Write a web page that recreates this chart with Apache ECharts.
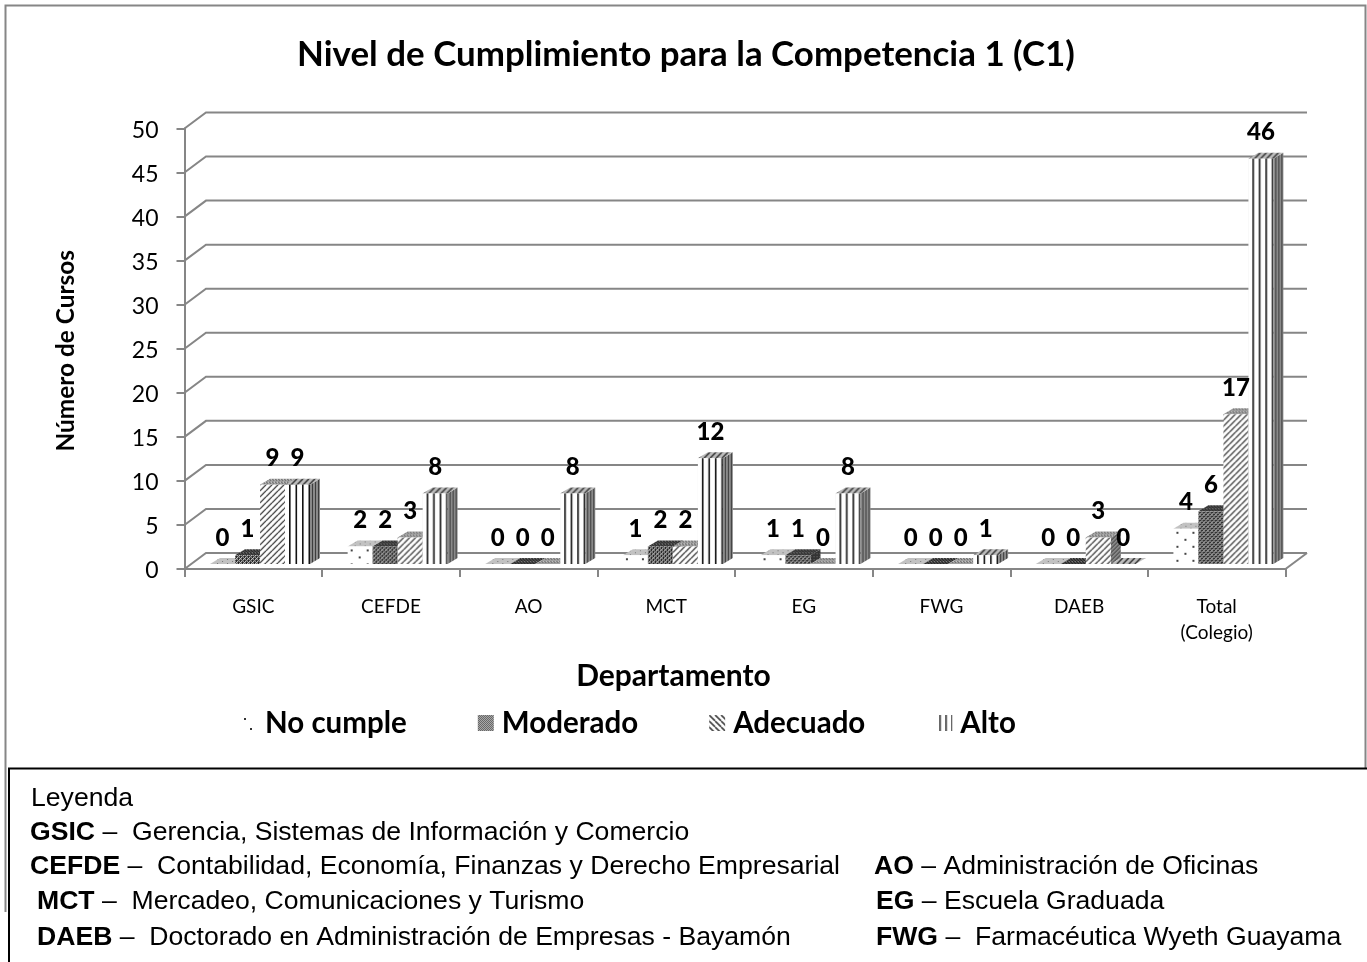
<!DOCTYPE html>
<html><head><meta charset="utf-8">
<style>html,body{margin:0;padding:0;background:#fff}#c{width:1367px;height:962px}</style>
<script src="https://cdn.jsdelivr.net/npm/echarts@6/dist/echarts.min.js"></script>
</head><body><div id="c"></div>
<script>
var chartTitle = 'Nivel de Cumplimiento para la Competencia 1 (C1)';
var categories = ['GSIC','CEFDE','AO','MCT','EG','FWG','DAEB','Total\n(Colegio)'];
var seriesNames = ['No cumple','Moderado','Adecuado','Alto'];
var noCumple = [0,2,0,1,1,0,0,4];
var moderado = [1,2,0,2,1,0,0,6];
var adecuado = [9,3,0,2,0,0,3,17];
var alto     = [9,8,8,12,8,1,0,46];
var yTicks   = [0,5,10,15,20,25,30,35,40,45,50];
var yTitle = 'Número de Cursos';
var xTitle = 'Departamento';
var keyHeading = 'Leyenda';
var keyCodes = ['GSIC','CEFDE','MCT','DAEB','AO','EG','FWG'];
var keyNames = [' –  Gerencia, Sistemas de Información y Comercio',
  ' –  Contabilidad, Economía, Finanzas y Derecho Empresarial',
  ' –  Mercadeo, Comunicaciones y Turismo',
  ' –  Doctorado en Administración de Empresas - Bayamón',
  ' – Administración de Oficinas',' – Escuela Graduada',' –  Farmacéutica Wyeth Guayama'];

var allValues = [noCumple,moderado,adecuado,alto];
var LAT = 'Lato', GREY = '#868686';
var DX = 21.5, DY = 16;         // wall depth
var BX = 10, BY = 6;            // bar depth
var FX = 6.7, FY = 5;           // bar plane offset
var BAR_FRAC = 0.1816;

function tile(w,h,bg,draw){
  var c=document.createElement('canvas');c.width=w;c.height=h;
  var g=c.getContext('2d');g.fillStyle=bg;g.fillRect(0,0,w,h);draw(g);
  return {image:c,repeat:'repeat'};
}
function px(g,col,pts,s){g.fillStyle=col;pts.forEach(function(p){g.fillRect(p[0],p[1],s||1,s||1);});}
function diag(n,bg,col,lw,dir){
  return tile(n,n,bg,function(g){
    g.strokeStyle=col;g.lineWidth=lw;
    for(var i=-1;i<=1;i++){g.beginPath();
      if(dir>0){g.moveTo(i*n,n);g.lineTo(i*n+n,0);}else{g.moveTo(i*n,0);g.lineTo(i*n+n,n);}
      g.stroke();}
  });
}
var mesh=function(a,b){return tile(4,4,a,function(g){px(g,b,[[0,0],[2,2],[1,3]]);px(g,'#bbb',[[2,0],[0,2],[3,1]]);});};
var front=[
  tile(16,14,'#fff',function(g){px(g,'#444',[[3,3],[11,10]],2);}),
  mesh('#222','#fff'),
  diag(6,'#fff','#222',1.2,1),
  tile(13,1,'#fff',function(g){g.fillStyle='#111';g.fillRect(4,0,1.6,1);g.fillRect(10.5,0,1.6,1);})
];
var top_=[
  tile(10,4,'#c2c2c2',function(g){px(g,'#777',[[2,1],[7,3]]);}),
  tile(3,3,'#4a4a4a',function(g){px(g,'#222',[[0,0],[1,1],[2,2]]);px(g,'#888',[[2,0]]);}),
  tile(3,3,'#a0a0a0',function(g){px(g,'#666',[[0,0],[1,1]]);px(g,'#ccc',[[2,0]]);}),
  diag(6,'#bdbdbd','#333',1.5,1)
];
var side=[
  tile(3,3,'#bbb',function(g){px(g,'#888',[[1,1]]);}),
  tile(3,3,'#333',function(g){px(g,'#777',[[1,1]]);}),
  diag(4,'#888','#333',1,1),
  tile(3,1,'#8a8a8a',function(g){g.fillStyle='#3d3d3d';g.fillRect(0,0,1,1);})
];
var legendFill=[
  tile(16,16,'#fff',function(g){px(g,'#333',[[3,3],[9,13]],2);}),
  tile(2,2,'#555',function(g){px(g,'#bbb',[[0,0],[1,1]]);}),
  diag(6,'#fff','#444',1.6,-1),
  tile(6,1,'#fff',function(g){g.fillStyle='#222';g.fillRect(3,0,1.5,1);})
];

function barSeries(si){
  return {
    type:'custom',name:seriesNames[si],coordinateSystem:'cartesian2d',clip:false,silent:true,z:3,
    itemStyle:{color:legendFill[si]},
    encode:{x:0,y:1},
    data:allValues[si].map(function(v,i){return [i,v];}),
    renderItem:function(params,api){
      var i=api.value(0),v=api.value(1);
      var base=api.coord([i,0]),topP=api.coord([i,v]);
      var w=api.size([1,0])[0]*BAR_FRAC, h=base[1]-topP[1];
      return {type:'group',x:base[0]+FX+(si-2)*w,y:topP[1]-FY,children:[
        {type:'polygon',z2:10+si,shape:{points:[[w,0],[w+BX,-BY],[w+BX,h-BY],[w,h]]},style:{fill:side[si]}},
        {type:'polygon',z2:10+si,shape:{points:[[0,0],[w,0],[w+BX,-BY],[BX,-BY]]},style:{fill:top_[si]}},
        {type:'rect',z2:10+si,shape:{x:0,y:0,width:w,height:h},style:{fill:front[si]}},
        {type:'text',z2:100,x:w/2,y:-26,style:{text:String(v),fontFamily:LAT,fontWeight:900,fontSize:24,fill:'#000',align:'center',verticalAlign:'middle'}}
      ]};
    }
  };
}
var wallSeries={
  type:'custom',coordinateSystem:'cartesian2d',clip:false,silent:true,z:1,
  encode:{x:0,y:1},
  data:yTicks.map(function(t){return [0,t];}),
  renderItem:function(params,api){
    var t=api.value(1),y=api.coord([0,t])[1],cs=params.coordSys,x0=cs.x,x1=cs.x+cs.width;
    var kids=[{type:'polyline',shape:{points:[[x0,y],[x0+DX,y-DY],[x1+DX,y-DY]]},style:{fill:'none',stroke:GREY,lineWidth:2}}];
    if(t===0)kids.push({type:'line',shape:{x1:x1,y1:y,x2:x1+DX,y2:y-DY},style:{stroke:GREY,lineWidth:2}});
    return {type:'group',children:kids};
  }
};

var L1=[31,30,30,37,37], L2=[874,876,876];
var Y=[799,833,867,902,938];
var KEY_SIZE=26.6;
var T={fontFamily:'Liberation Sans',fontSize:KEY_SIZE,fill:'#000'};
function keyText(code,name,x,y){
  return {type:'text',silent:true,x:x,y:y,style:Object.assign({},T,{text:'{b|'+code+'}'+name,verticalAlign:'middle',
    rich:{b:{fontFamily:'Liberation Sans',fontSize:KEY_SIZE,fontWeight:'bold',fill:'#000'}}})};
}
var gfx=[
  {type:'polyline',silent:true,shape:{points:[[5.5,912],[5.5,5.5],[1365.5,5.5],[1365.5,768]]},style:{fill:'none',stroke:GREY,lineWidth:2}},
  {type:'polyline',silent:true,shape:{points:[[9,962],[9,768.5],[1367,768.5]]},style:{fill:'none',stroke:'#000',lineWidth:2}},
  {type:'text',silent:true,x:L1[0],y:Y[0],style:Object.assign({},T,{text:keyHeading,verticalAlign:'middle'})}
];
[0,1,2,3].forEach(function(k){gfx.push(keyText(keyCodes[k],keyNames[k],L1[k+1],Y[k+1]));});
[4,5,6].forEach(function(k,j){gfx.push(keyText(keyCodes[k],keyNames[k],L2[j],Y[j+2]));});

var chart=echarts.init(document.getElementById('c'),null,{renderer:'canvas'});
chart.setOption({
  animation:false,backgroundColor:'#fff',
  title:{text:chartTitle,left:681,top:32,textAlign:'center',textStyle:{fontFamily:LAT,fontWeight:'bold',fontSize:34.9,color:'#000'}},
  grid:{left:184.5,top:128.5,width:1101,height:440.5,containLabel:false},
  legend:{left:236,top:703,icon:'rect',itemWidth:16,itemHeight:16,itemGap:71,selectedMode:false,
    textStyle:{fontFamily:LAT,fontWeight:'bold',fontSize:29.5,color:'#000',padding:[0,0,0,3]},
    data:seriesNames.map(function(n){return {name:n};})},
  xAxis:{type:'category',data:categories,boundaryGap:true,
    name:xTitle,nameLocation:'middle',nameGap:92,
    nameTextStyle:{fontFamily:LAT,fontWeight:'bold',fontSize:30,color:'#000',padding:[0,123,0,0]},
    axisLine:{lineStyle:{color:GREY,width:2}},
    axisTick:{show:true,alignWithLabel:false,length:8,lineStyle:{color:GREY,width:2}},
    axisLabel:{fontFamily:LAT,fontSize:19,color:'#000',margin:25,lineHeight:26,interval:0}},
  yAxis:{type:'value',min:0,max:50,interval:5,
    name:yTitle,nameLocation:'middle',nameGap:106,nameRotate:90,
    nameTextStyle:{fontFamily:LAT,fontWeight:'bold',fontSize:24.4,color:'#000',padding:[0,4,0,0]},
    axisLine:{show:true,lineStyle:{color:GREY,width:2}},
    axisTick:{show:true,length:8,lineStyle:{color:GREY,width:2}},
    splitLine:{show:false},
    axisLabel:{fontFamily:LAT,fontSize:23,color:'#000',margin:26,formatter:'{a|{value}}',
      rich:{a:{fontFamily:LAT,fontSize:23,color:'#000',padding:[4,0,0,0]}}}},
  series:[wallSeries].concat([0,1,2,3].map(barSeries)),
  graphic:gfx
});
</script></body></html>
